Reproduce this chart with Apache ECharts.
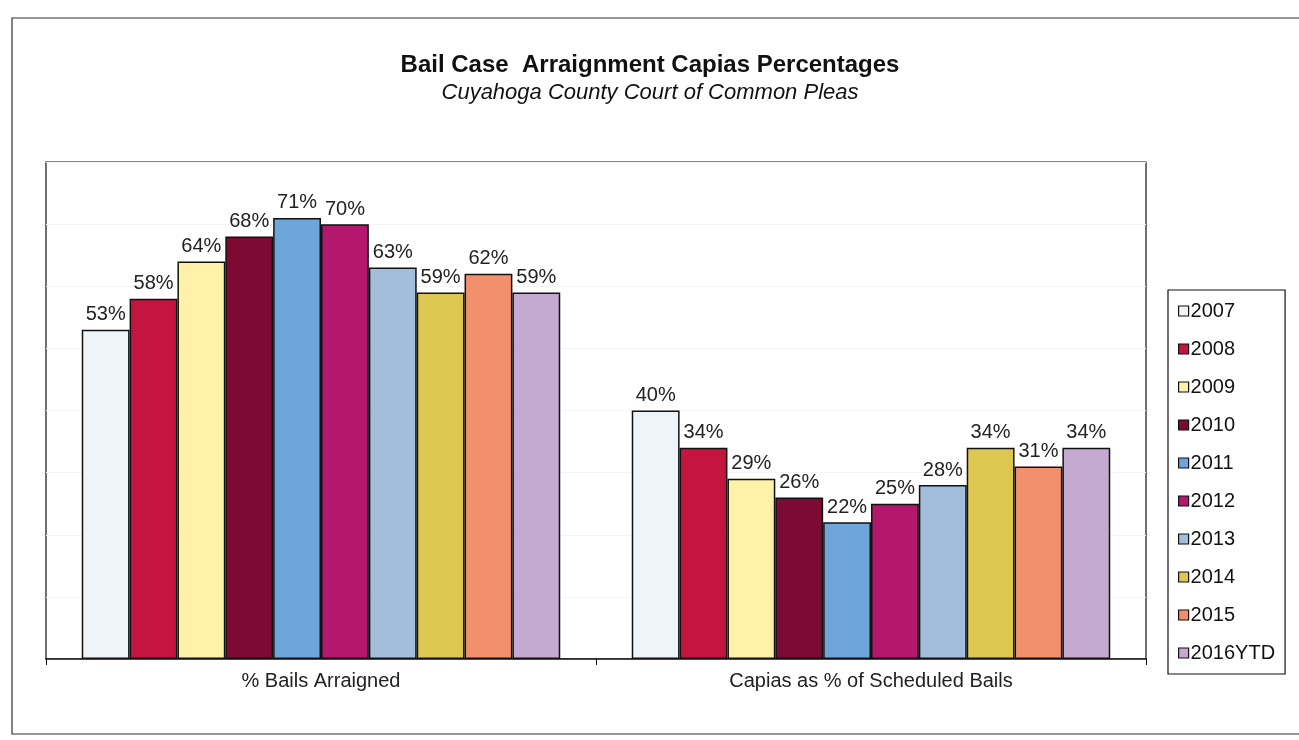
<!DOCTYPE html>
<html>
<head>
<meta charset="utf-8">
<script src="https://cdn.jsdelivr.net/npm/echarts@6/dist/echarts.min.js"></script>
<style>
  html, body { margin: 0; padding: 0; background: #fff; }
  #chart { width: 1299px; height: 740px; }
</style>
</head>
<body>
<div id="chart"></div>
<script>
const categories = ['% Bails Arraigned', 'Capias as % of Scheduled Bails']
const years = ['2007', '2008', '2009', '2010', '2011', '2012', '2013', '2014', '2015', '2016YTD']
const bailsArraigned = [53, 58, 64, 68, 71, 70, 63, 59, 62, 59]
const capiasPct = [40, 34, 29, 26, 22, 25, 28, 34, 31, 34]
const colors = ['#eef4f8', '#c41540', '#fff1a8', '#7c0a32', '#6ea6dc', '#b4186e', '#a2bedc', '#dcc850', '#f2906e', '#c4aad0']

const chart = echarts.init(document.getElementById('chart'))

const series = years.map((y, i) => ({
  name: y,
  type: 'bar',
  barGap: 0,
  barCategoryGap: '13%',
  itemStyle: { color: colors[i], borderColor: '#111', borderWidth: 1.5 },
  label: {
    show: true,
    position: 'top',
    distance: 5,
    formatter: '{c}%',
    color: '#222',
    fontFamily: 'Liberation Sans',
    fontSize: 20
  },
  data: [bailsArraigned[i], capiasPct[i]]
}))

const option = {
  backgroundColor: '#fff',
  animation: false,
  title: {
    text: 'Bail Case  Arraignment Capias Percentages',
    subtext: 'Cuyahoga County Court of Common Pleas',
    left: 645,
    textAlign: 'center',
    top: 48,
    itemGap: 5,
    textStyle: {
      fontFamily: 'Liberation Sans',
      fontWeight: 'bold',
      fontSize: 24,
      color: '#111'
    },
    subtextStyle: {
      fontFamily: 'Liberation Sans',
      fontStyle: 'italic',
      fontSize: 22,
      color: '#111'
    }
  },
  legend: {
    orient: 'vertical',
    left: 1168,
    top: 290,
    width: 110,
    padding: [11, 10, 11, 10],
    itemGap: 18,
    itemWidth: 10,
    itemHeight: 10,
    borderColor: '#111',
    borderWidth: 1.2,
    icon: 'rect',
    itemStyle: { borderColor: '#111', borderWidth: 1.2 },
    textStyle: { fontFamily: 'Liberation Sans', fontSize: 20, lineHeight: 20, color: '#111', padding: [0, 0, 0, -3] },
    data: years
  },
  grid: {
    show: true,
    left: 46,
    right: 153,
    top: 162,
    bottom: 81,
    borderColor: '#111',
    borderWidth: 1.2,
    containLabel: false
  },
  xAxis: {
    type: 'category',
    data: categories,
    axisLine: { lineStyle: { color: '#111', width: 1.5 } },
    axisTick: { show: true, length: 6, inside: false, lineStyle: { color: '#111' } },
    axisLabel: {
      margin: 12,
      color: '#222',
      fontFamily: 'Liberation Sans',
      fontSize: 20
    }
  },
  yAxis: {
    type: 'value',
    min: 0,
    max: 80,
    interval: 10,
    axisLine: { show: false },
    axisTick: { show: false },
    axisLabel: { show: false },
    splitLine: { show: true, lineStyle: { color: '#f4f4f4', width: 1 } }
  },
  graphic: [
    {
      type: 'rect',
      shape: { x: 12, y: 18, width: 1300, height: 716 },
      style: { fill: 'none', stroke: '#333', lineWidth: 1.2 },
      z: -1
    }
  ],
  series: series
}

chart.setOption(option)
</script>
</body>
</html>
